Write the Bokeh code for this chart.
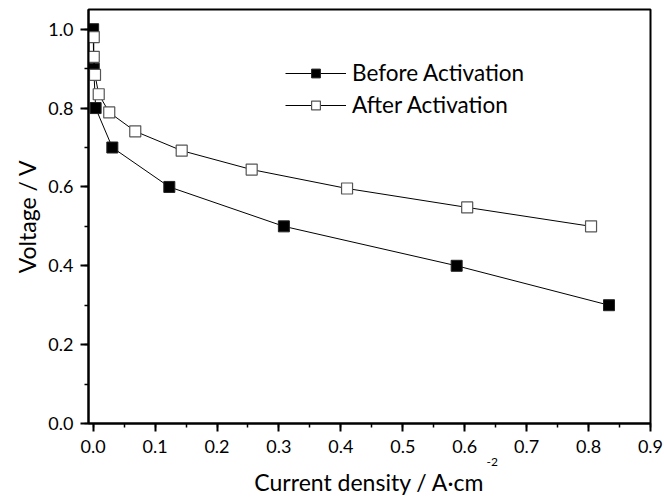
from bokeh.plotting import figure
from bokeh.models import (Range1d, SingleIntervalTicker, PrintfTickFormatter, Legend, LegendItem, Title)
from bokeh.embed import file_html
from bokeh.resources import INLINE

before_x = [0.0, 0.001, 0.004, 0.031, 0.123, 0.308, 0.587, 0.833]
before_y = [1.0, 0.9, 0.8, 0.7, 0.6, 0.5, 0.4, 0.3]
after_x = [0.001, 0.001, 0.003, 0.009, 0.026, 0.068, 0.143, 0.256, 0.41, 0.604, 0.804]
after_y = [0.98, 0.93, 0.884, 0.835, 0.789, 0.741, 0.692, 0.644, 0.596, 0.548, 0.5]

FONT = "Lato"

p = figure(width=664, height=499, output_backend="svg", toolbar_location=None,
           x_range=Range1d(-0.0075, 0.9), y_range=Range1d(0.0, 1.05),
           min_border_left=88, min_border_right=14, min_border_top=9, min_border_bottom=76)
p.background_fill_color = "white"
p.border_fill_color = "white"
p.outline_line_color = "black"
p.outline_line_width = 2
p.xgrid.visible = False
p.ygrid.visible = False

p.xaxis.ticker = SingleIntervalTicker(interval=0.1, num_minor_ticks=2)
p.yaxis.ticker = SingleIntervalTicker(interval=0.2, num_minor_ticks=2)
p.xaxis.formatter = PrintfTickFormatter(format="%.1f")
p.yaxis.formatter = PrintfTickFormatter(format="%.1f")
for ax in (p.xaxis, p.yaxis):
    ax.axis_line_width = 2
    ax.axis_line_color = "black"
    ax.major_tick_line_width = 2
    ax.minor_tick_line_width = 1.5
    ax.major_tick_out = 8
    ax.major_tick_in = 0
    ax.minor_tick_out = 4
    ax.minor_tick_in = 0
    ax.major_label_text_font = FONT
    ax.major_label_text_font_size = "18px"
    ax.major_label_text_color = "black"
    ax.axis_label_text_font = FONT
    ax.axis_label_text_font_size = "23px"
    ax.axis_label_text_font_style = "normal"
    ax.axis_label_text_color = "black"
p.xaxis.major_label_standoff = 8
p.yaxis.major_label_standoff = 7
p.yaxis.axis_label = "Voltage / V"
p.yaxis.axis_label_standoff = 4

sup = Title(text="-2", align="left", offset=398, text_font=FONT, text_font_size="12px",
            text_font_style="normal", text_color="black", standoff=0)
p.add_layout(sup, "below")
xlab = Title(text="Current density / A\u00b7cm", align="center", text_font=FONT, text_font_size="23px",
             text_font_style="normal", text_color="black", standoff=0)
p.add_layout(xlab, "below")

l1 = p.line(before_x, before_y, line_color="black", line_width=1)
s1 = p.scatter(before_x, before_y, marker="square", size=11, fill_color="black", line_color="#222222", line_width=1)
l2 = p.line(after_x, after_y, line_color="black", line_width=1)
s2 = p.scatter(after_x, after_y, marker="square", size=11, fill_color="white", line_color="#555555", line_width=1.2)

legend = Legend(items=[LegendItem(label="Before Activation", renderers=[l1, s1]),
                       LegendItem(label="After Activation", renderers=[l2, s2])],
                location=(197, 305), border_line_color=None, background_fill_alpha=0,
                padding=0, margin=0, spacing=5, glyph_width=61, glyph_height=22,
                label_height=22, label_standoff=6,
                label_text_font=FONT, label_text_font_size="22.5px", label_text_color="black")
p.add_layout(legend, "center")

open("out.html", "w").write(file_html(p, INLINE))
